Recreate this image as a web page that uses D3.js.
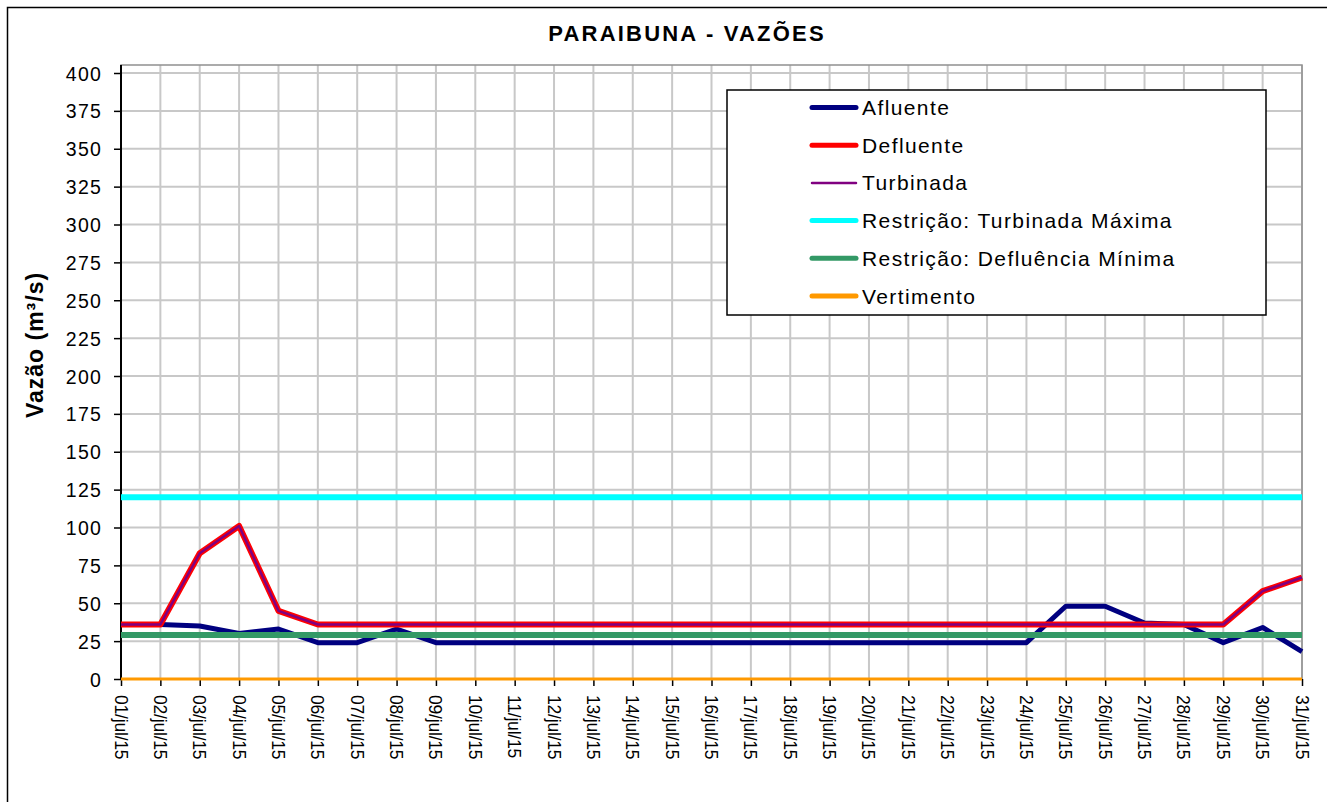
<!doctype html>
<html lang="pt">
<head>
  <meta charset="utf-8">
  <title>Paraibuna - Vazões</title>
  <script src="https://d3js.org/d3.v7.min.js"></script>
  <style>
    body { margin: 0; background: #fff; }
    text { font-family: Arial, "Liberation Sans", sans-serif; fill: #000; }
    .yax text { font-size: 19.5px; letter-spacing: 1.2px; }
    .xax text { font-size: 17.5px; letter-spacing: -0.2px; }
  </style>
</head>
<body>
<div id="chart"></div>
<script>
  // dias de julho/2015
  var days = d3.range(1, 32).map(d => (d < 10 ? '0' + d : '' + d) + '/jul/15');
  var afluente = [36, 36, 35, 30, 33, 24, 24, 33, 24, 24, 24, 24, 24, 24, 24, 24, 24, 24, 24, 24,
                  24, 24, 24, 24, 48, 48, 37, 36, 24, 34, 18];
  var defluente = [36, 36, 83, 101, 45, 36, 36, 36, 36, 36, 36, 36, 36, 36, 36, 36, 36, 36, 36, 36,
                   36, 36, 36, 36, 36, 36, 36, 36, 36, 58, 67];
  var turbinada = defluente.slice();
  var turbMax = days.map(() => 120);
  var deflMin = days.map(() => 29);
  var vertimento = days.map(() => 0);
  var yTicks = d3.range(0, 401, 25);

  var series = [
    {name: 'Afluente', values: afluente, color: '#000080', width: 5, lw: 5},
    {name: 'Defluente', values: defluente, color: '#ff0000', width: 6, lw: 5},
    {name: 'Turbinada', values: turbinada, color: '#800080', width: 2.5, lw: 2.5},
    {name: 'Restrição: Turbinada Máxima', values: turbMax, color: '#00ffff', width: 6, lw: 5},
    {name: 'Restrição: Defluência Mínima', values: deflMin, color: '#339966', width: 6, lw: 5},
    {name: 'Vertimento', values: vertimento, color: '#ff9900', width: 3, lw: 5}
  ];
  // ordem de desenho
  var drawOrder = [0, 3, 4, 5, 1, 2];

  var W = 1327, H = 802;
  // ("top" é reservado no window, por isso pTop etc.)
  var pLeft = 121, pRight = 1302, pTop = 65, pBottom = 679;

  var svg = d3.select('#chart').append('svg')
    .attr('width', W).attr('height', H);

  svg.append('rect')
    .attr('x', 7.5).attr('y', 7.5).attr('width', W + 20).attr('height', H + 20)
    .attr('fill', '#fff').attr('stroke', '#000').attr('stroke-width', 1.5);

  var x = d3.scalePoint().domain(days).range([pLeft, pRight]);
  var y = d3.scaleLinear().domain([0, 400]).range([pBottom, 73]);

  // grade
  svg.append('g').selectAll('line').data(yTicks.slice(1)).enter().append('line')
    .attr('x1', pLeft).attr('x2', pRight)
    .attr('y1', d => y(d)).attr('y2', d => y(d))
    .attr('stroke', '#c8c8c8').attr('stroke-width', 2);
  svg.append('g').selectAll('line').data(days.slice(1)).enter().append('line')
    .attr('x1', d => x(d)).attr('x2', d => x(d))
    .attr('y1', pTop).attr('y2', pBottom)
    .attr('stroke', '#c8c8c8').attr('stroke-width', 2);
  svg.append('rect')
    .attr('x', pLeft).attr('y', pTop).attr('width', pRight - pLeft).attr('height', pBottom - pTop)
    .attr('fill', 'none').attr('stroke', '#909090').attr('stroke-width', 1.5);

  // eixos
  var yAxis = svg.append('g')
    .attr('class', 'yax')
    .attr('transform', 'translate(' + pLeft + ',0)')
    .call(d3.axisLeft(y).tickValues(yTicks).tickSize(7).tickPadding(6));
  yAxis.attr('font-size', null).attr('font-family', null);
  yAxis.select('.domain').attr('stroke', '#000').attr('stroke-width', 2).attr('d', 'M0,' + pTop + 'V' + pBottom);
  yAxis.selectAll('.tick line').attr('stroke', '#000').attr('stroke-width', 1.5);
  yAxis.selectAll('text').attr('x', -19).attr('dy', '0.36em');

  var xAxis = svg.append('g')
    .attr('class', 'xax')
    .attr('transform', 'translate(0,' + pBottom + ')')
    .call(d3.axisBottom(x).tickSize(7).tickPadding(0));
  xAxis.attr('font-size', null).attr('font-family', null);
  xAxis.select('.domain').attr('stroke', '#000').attr('stroke-width', 2).attr('d', 'M' + pLeft + ',0H' + pRight);
  xAxis.selectAll('.tick line').attr('stroke', '#000').attr('stroke-width', 1.5);
  xAxis.selectAll('text')
    .attr('text-anchor', 'start')
    .attr('transform', 'translate(-7,16) rotate(90)')
    .attr('x', 0).attr('y', 0).attr('dy', '0');

  // linhas
  var line = d3.line().x((d, i) => x(days[i])).y(d => y(d));
  drawOrder.forEach(function (k) {
    var s = series[k];
    svg.append('path')
      .datum(s.values)
      .attr('d', line)
      .attr('fill', 'none')
      .attr('stroke', s.color)
      .attr('stroke-width', s.width)
      .attr('stroke-linejoin', 'round');
  });

  // títulos
  svg.append('text')
    .attr('x', 687).attr('y', 41)
    .attr('text-anchor', 'middle')
    .style('font-size', '22px').style('font-weight', 'bold').style('letter-spacing', '2.2px')
    .text('PARAIBUNA - VAZÕES');

  svg.append('text')
    .attr('transform', 'translate(43,345) rotate(-90)')
    .attr('text-anchor', 'middle')
    .style('font-size', '23px').style('font-weight', 'bold').style('letter-spacing', '1px')
    .text('Vazão (m³/s)');

  // legenda
  var legend = svg.append('g');
  legend.append('rect')
    .attr('x', 727).attr('y', 90).attr('width', 539).attr('height', 225)
    .attr('fill', '#fff').attr('stroke', '#000').attr('stroke-width', 1.5);
  var rows = legend.selectAll('g.row').data(series).enter().append('g')
    .attr('transform', (d, i) => 'translate(0,' + (107.5 + i * 37.7) + ')');
  rows.append('line')
    .attr('x1', 812).attr('x2', 856).attr('y1', 0).attr('y2', 0)
    .attr('stroke', d => d.color).attr('stroke-width', d => d.lw)
    .attr('stroke-linecap', 'round');
  rows.append('text')
    .attr('x', 862).attr('dy', '0.36em')
    .style('font-size', '21px').style('letter-spacing', '1.4px')
    .text(d => d.name);
</script>
</body>
</html>
